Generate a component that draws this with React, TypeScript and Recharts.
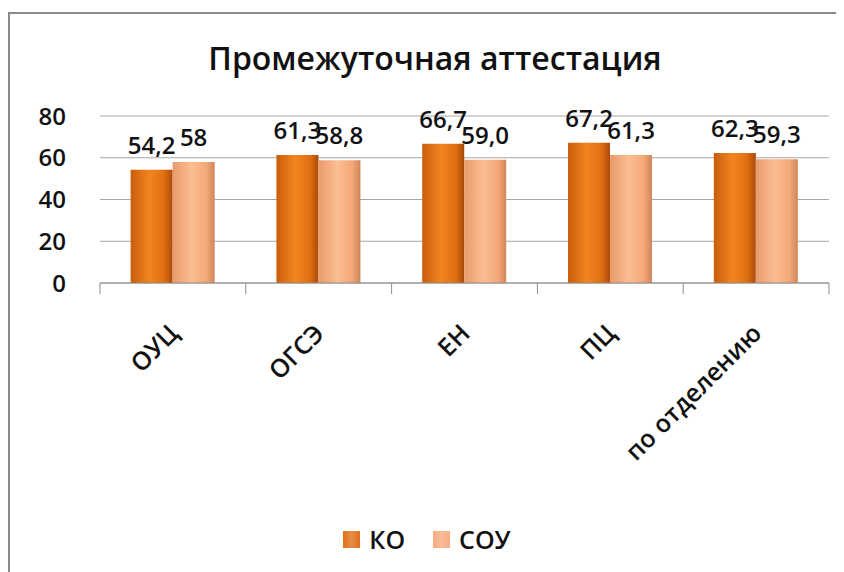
import {
  BarChart,
  Bar,
  XAxis,
  YAxis,
  CartesianGrid,
  Legend,
  LabelList,
} from "recharts";

const categories = ["ОУЦ", "ОГСЭ", "ЕН", "ПЦ", "по отделению"];
const koValues = [54.2, 61.3, 66.7, 67.2, 62.3];
const souValues = [58, 58.8, 59.0, 61.3, 59.3];
const koLabels = ["54,2", "61,3", "66,7", "67,2", "62,3"];
const souLabels = ["58", "58,8", "59,0", "61,3", "59,3"];
const yTicks = [0, 20, 40, 60, 80];

const data = categories.map((name, i) => ({
  name,
  ko: koValues[i],
  sou: souValues[i],
  koLabel: koLabels[i],
  souLabel: souLabels[i],
}));

const FONT = "'Open Sans', sans-serif";
const CHART_W = 826;
const CHART_H = 558;
const MARGIN = { top: 102, right: 7, bottom: 0, left: 0 };
const Y_WIDTH = 90;
const BAND = (CHART_W - MARGIN.left - MARGIN.right - Y_WIDTH) / categories.length;

function XTick({ x, y, payload, index }: any) {
  const last = index === categories.length - 1;
  return (
    <g>
      <line x1={x - BAND / 2} x2={x - BAND / 2} y1={y} y2={y + 11} stroke="#8c8c8c" />
      {last && (
        <line x1={x + BAND / 2} x2={x + BAND / 2} y1={y} y2={y + 11} stroke="#8c8c8c" />
      )}
      <text
        transform={`translate(${x + 7},${y + 52}) rotate(-45)`}
        textAnchor="end"
        fontFamily={FONT}
        fontWeight={600}
        fontSize={25}
        fill="#111"
      >
        {payload.value}
      </text>
    </g>
  );
}

function LegendContent() {
  const items = [
    { label: "КО", color: "#e0701a" },
    { label: "СОУ", color: "#f7ad7f" },
  ];
  return (
    <div
      style={{
        display: "flex",
        justifyContent: "center",
        gap: 28,
        paddingLeft: 8,
        fontFamily: FONT,
        fontWeight: 600,
        fontSize: 25,
        color: "#111",
      }}
    >
      {items.map((it) => (
        <div key={it.label} style={{ display: "flex", alignItems: "center", gap: 9 }}>
          <span
            style={{
              display: "inline-block",
              width: 17,
              height: 17,
              background: `linear-gradient(90deg, ${it.color}, #fff3 50%, ${it.color})`,
              backgroundColor: it.color,
            }}
          />
          <span>{it.label}</span>
        </div>
      ))}
    </div>
  );
}

export default function App() {
  return (
    <div
      style={{
        position: "fixed",
        top: 12,
        left: 8,
        width: CHART_W,
        height: CHART_H,
        borderTop: "2px solid #8a8a8a",
        borderLeft: "2px solid #8a8a8a",
        background: "#fff",
        overflow: "hidden",
      }}
    >
      <div
        style={{
          position: "absolute",
          top: 22,
          left: 0,
          width: CHART_W,
          paddingLeft: 24,
          boxSizing: "border-box",
          textAlign: "center",
          whiteSpace: "nowrap",
          fontFamily: FONT,
          fontWeight: 600,
          fontSize: 32,
          color: "#111",
        }}
      >
        Промежуточная аттестация
      </div>
      <BarChart
        width={CHART_W}
        height={CHART_H}
        data={data}
        margin={MARGIN}
        barGap={0}
        barCategoryGap="21%"
      >
        <defs>
          <linearGradient id="koGrad" x1="0" y1="0" x2="1" y2="0">
            <stop offset="0%" stopColor="#c95d0c" />
            <stop offset="45%" stopColor="#f2851f" />
            <stop offset="80%" stopColor="#e06e12" />
            <stop offset="100%" stopColor="#a84b08" />
          </linearGradient>
          <linearGradient id="souGrad" x1="0" y1="0" x2="1" y2="0">
            <stop offset="0%" stopColor="#e99a6a" />
            <stop offset="45%" stopColor="#fbbd92" />
            <stop offset="80%" stopColor="#f5a878" />
            <stop offset="100%" stopColor="#cf8658" />
          </linearGradient>
        </defs>
        <CartesianGrid vertical={false} stroke="#a6a6a6" />
        <XAxis
          dataKey="name"
          interval={0}
          height={CHART_H - MARGIN.top - 167}
          tickSize={0}
          tickMargin={0}
          tickLine={false}
          axisLine={{ stroke: "#8c8c8c" }}
          tick={<XTick />}
        />
        <YAxis
          width={Y_WIDTH}
          domain={[0, 80]}
          ticks={yTicks}
          axisLine={false}
          tickLine={false}
          tickSize={0}
          tickMargin={34}
          tick={{ fontFamily: FONT, fontWeight: 600, fontSize: 24, fill: "#111" }}
        />
        <Legend
          verticalAlign="middle"
          content={<LegendContent />}
          wrapperStyle={{ top: 508, left: 0, width: CHART_W }}
        />
        <Bar dataKey="ko" fill="url(#koGrad)" isAnimationActive={false}>
          <LabelList
            dataKey="koLabel"
            position="top"
            offset={16}
            style={{ fontFamily: FONT, fontWeight: 600, fontSize: 24, fill: "#111" }}
          />
        </Bar>
        <Bar dataKey="sou" fill="url(#souGrad)" isAnimationActive={false}>
          <LabelList
            dataKey="souLabel"
            position="top"
            offset={16}
            style={{ fontFamily: FONT, fontWeight: 600, fontSize: 24, fill: "#111" }}
          />
        </Bar>
      </BarChart>
    </div>
  );
}
